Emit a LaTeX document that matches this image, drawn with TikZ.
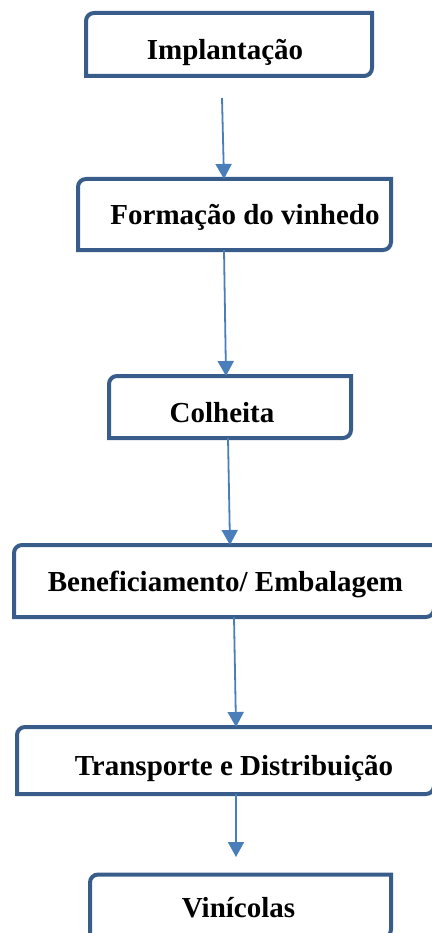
\documentclass[tikz,border=0pt]{standalone}
\usepackage{fontspec}
\setmainfont{Liberation Serif}
\usetikzlibrary{arrows.meta}
\definecolor{boxblue}{RGB}{56,93,138}
\definecolor{arrowblue}{RGB}{74,126,187}

\begin{document}
\begin{tikzpicture}[x=1pt, y=-1pt, line join=miter,
    stage/.style={rectangle, draw=none, inner sep=0pt, outer sep=0pt},
    stageline/.style={draw=boxblue, line width=4pt},
    caption/.style={anchor=base, inner sep=0pt,
                    font=\fontsize{29pt}{34pt}\selectfont\bfseries},
    flow/.style={draw=arrowblue, line width=1.8pt,
                 -{Triangle[width=16pt,length=15pt]}}]
\useasboundingbox (0,0) rectangle (431,933);
% boxes
\node [stage, minimum width=286pt, minimum height=63pt] (impl)   at (229,44.5)  {};
\node [stage, minimum width=313pt, minimum height=71pt] (form)   at (234.5,214.5) {};
\node [stage, minimum width=242pt, minimum height=62pt] (colh)   at (230,407)   {};
\node [stage, minimum width=420pt, minimum height=72pt] (benef)  at (224,581)   {};
\node [stage, minimum width=417pt, minimum height=67pt] (transp) at (225.5,760.5) {};
\node [stage, minimum width=301pt, minimum height=63pt] (vini)   at (240.5,906) {};
\foreach \n in {impl,form,colh,benef,transp,vini}
\draw [stageline] (\n.south west) -- ([yshift=-8pt]\n.north west)
  arc [start angle=180, end angle=90, radius=8pt] -- (\n.north east)
  -- ([yshift=8pt]\n.south east)
  arc [start angle=0, end angle=-90, radius=8pt] -- cycle;
% texts
\node [caption] (impl-t)   at (225,60)    {Implantação};
\node [caption] (form-t)   at (245,225)   {Formação do vinhedo};
\node [caption] (colh-t)   at (222,422)   {Colheita};
\node [caption] (benef-t)  at (225.5,591) {Beneficiamento/ Embalagem};
\node [caption] (transp-t) at (234,775)   {Transporte e Distribuição};
\node [caption] (vini-t)   at (238.5,917) {Vinícolas};
% arrows
\coordinate (start) at (222,98);
\coordinate (stop)  at (236,857);
\draw [flow] (start) -- ([xshift=-10.5pt]form.north);
\draw [flow] ([xshift=-10.5pt]form.south) -- ([xshift=-4pt]colh.north);
\draw [flow] ([xshift=-2pt]colh.south) -- ([xshift=6pt]benef.north);
\draw [flow] ([xshift=10pt]benef.south) -- ([xshift=10.5pt]transp.north);
\draw [flow] ([xshift=10.5pt]transp.south) -- (stop);
\end{tikzpicture}
\end{document}
